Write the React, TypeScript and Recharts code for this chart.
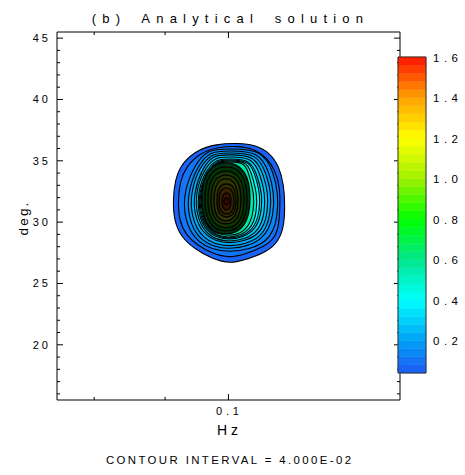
import React from "react";
import { ComposedChart, ReferenceArea, Scatter, XAxis, YAxis } from "recharts";

const FONT = "'Liberation Sans', Arial, sans-serif";

const hzTicks = [0.08, 0.09, 0.1];
const hzLabels = [0.1];
const degTicks = [
  16, 17, 18, 19, 20, 21, 22, 23, 24, 25, 26, 27, 28, 29, 30, 31, 32, 33, 34, 35,
  36, 37, 38, 39, 40, 41, 42, 43, 44, 45,
];
const degLabels = [20, 25, 30, 35, 40, 45];
const barTicks = [0.2, 0.4, 0.6, 0.8, 1.0, 1.2, 1.4, 1.6];
const contourLevels = [
  0.04, 0.08, 0.12, 0.16, 0.2, 0.24, 0.28, 0.32, 0.36, 0.4, 0.44, 0.48, 0.52,
  0.56, 0.6, 0.64, 0.68, 0.72, 0.76, 0.8, 0.84, 0.88, 0.92, 0.96, 1.0, 1.04,
  1.08, 1.12, 1.16, 1.2, 1.24, 1.28, 1.32, 1.36, 1.4, 1.44, 1.48, 1.52, 1.56,
  1.6,
];

// contour rings, [Hz, deg]
const ring004 = [
  [0.09795, 36.37], [0.10159, 36.45], [0.10468, 36.29], [0.10714, 35.64],
  [0.10876, 34.58], [0.10967, 33.03], [0.10985, 31.24], [0.10967, 29.69],
  [0.10876, 28.47], [0.10661, 27.57], [0.10329, 27.0], [0.10025, 26.59],
  [0.0973, 27.0], [0.09458, 27.81], [0.09256, 28.71], [0.09134, 30.1],
  [0.09119, 31.81], [0.09149, 33.44], [0.09256, 34.82], [0.09489, 35.88],
];
const ring008 = [
  [0.09827, 36.13], [0.10159, 36.21], [0.1045, 35.96], [0.10661, 35.23],
  [0.10804, 34.25], [0.10894, 32.87], [0.10894, 31.24], [0.10876, 29.77],
  [0.10804, 28.71], [0.10608, 27.98], [0.10295, 27.41], [0.10008, 27.08],
  [0.09746, 27.41], [0.09489, 28.14], [0.09317, 28.96], [0.0921, 30.18],
  [0.09196, 31.81], [0.09225, 33.28], [0.09317, 34.5], [0.09537, 35.64],
];
const ring012 = [
  [0.09992, 35.96], [0.10573, 35.96], [0.10786, 34.01], [0.10858, 32.3],
  [0.10858, 30.67], [0.10732, 28.22], [0.09992, 27.33], [0.09474, 28.22],
  [0.09287, 30.34], [0.09287, 32.46], [0.09442, 34.58], [0.09665, 35.96],
];
const ring016 = [
  [0.09992, 35.8], [0.1052, 35.8], [0.10714, 33.93], [0.10786, 32.3],
  [0.10786, 30.75], [0.10643, 28.47], [0.09992, 27.57], [0.09505, 28.47],
  [0.09348, 30.5], [0.09348, 32.46], [0.09489, 34.5], [0.09697, 35.8],
];
const ring020 = [
  [0.09992, 35.64], [0.10485, 35.64], [0.10661, 33.85], [0.10732, 32.38],
  [0.10732, 30.83], [0.10608, 28.63], [0.09992, 27.81], [0.09553, 28.63],
  [0.09395, 30.59], [0.09395, 32.46], [0.09521, 34.42], [0.0973, 35.64],
];
const ring024 = [
  [0.09992, 35.48], [0.1045, 35.48], [0.10608, 33.76], [0.10679, 32.38],
  [0.10679, 30.91], [0.10573, 28.87], [0.09992, 28.06], [0.09585, 28.87],
  [0.09442, 30.67], [0.09442, 32.46], [0.09569, 34.33], [0.09746, 35.48],
];
const ring028 = [
  [0.09992, 35.31], [0.10416, 35.31], [0.10555, 33.68], [0.10625, 32.3],
  [0.10625, 30.91], [0.1052, 28.96], [0.09992, 28.22], [0.09617, 28.96],
  [0.09474, 30.75], [0.09474, 32.46], [0.09585, 34.17], [0.09778, 35.31],
];
const ring032 = [
  [0.09992, 35.15], [0.10381, 35.15], [0.10503, 33.6], [0.10573, 32.3],
  [0.10573, 30.99], [0.10468, 29.12], [0.09992, 28.39], [0.09633, 29.12],
  [0.09505, 30.75], [0.09505, 32.46], [0.09617, 34.09], [0.09795, 35.15],
];
const ring036 = [
  [0.09992, 35.07], [0.10364, 35.07], [0.10468, 33.6], [0.10537, 32.3],
  [0.10537, 30.99], [0.10433, 29.2], [0.09992, 28.47], [0.09649, 29.2],
  [0.09521, 30.83], [0.09521, 32.38], [0.09633, 34.01], [0.09811, 35.07],
];
const ring044 = [
  [0.09992, 34.99], [0.10329, 34.99], [0.10416, 33.52], [0.10485, 32.3],
  [0.10485, 30.99], [0.10398, 29.28], [0.09992, 28.55], [0.09665, 29.28],
  [0.09537, 30.83], [0.09537, 32.38], [0.09633, 33.93], [0.09827, 34.99],
];
const ring052 = [
  [0.09992, 34.91], [0.10295, 34.91], [0.10364, 33.52], [0.10433, 32.3],
  [0.10433, 31.07], [0.10347, 29.36], [0.09992, 28.71], [0.09665, 29.36],
  [0.09553, 30.91], [0.09553, 32.38], [0.09649, 33.93], [0.09844, 34.91],
];
const ring060 = [
  [0.09959, 35.04], [0.10302, 34.39], [0.10395, 31.93], [0.10302, 29.47],
  [0.09959, 28.82], [0.09627, 29.47], [0.0954, 31.93], [0.09627, 34.39],
];
const ring072 = [
  [0.09959, 34.69], [0.10259, 34.11], [0.10339, 31.89], [0.10259, 29.67],
  [0.09959, 29.09], [0.09667, 29.67], [0.09591, 31.89], [0.09667, 34.11],
];
const ring084 = [
  [0.09959, 34.34], [0.10215, 33.82], [0.10285, 31.85], [0.10215, 29.88],
  [0.09959, 29.35], [0.09709, 29.88], [0.09643, 31.85], [0.09709, 33.82],
];
const ring096 = [
  [0.09959, 33.99], [0.10173, 33.54], [0.10229, 31.85], [0.10173, 30.15],
  [0.09959, 29.71], [0.09751, 30.15], [0.09695, 31.85], [0.09751, 33.54],
];
const ring108 = [
  [0.09959, 33.65], [0.10128, 33.27], [0.10174, 31.81], [0.10128, 30.35],
  [0.09959, 29.97], [0.09791, 30.35], [0.09748, 31.81], [0.09791, 33.27],
];
const ring120 = [
  [0.09967, 33.21], [0.10102, 32.91], [0.10137, 31.77], [0.10102, 30.63],
  [0.09967, 30.33], [0.09834, 30.63], [0.098, 31.77], [0.09834, 32.91],
];
const ring132 = [
  [0.09967, 32.87], [0.10073, 32.62], [0.10102, 31.73], [0.10073, 30.83],
  [0.09967, 30.59], [0.09862, 30.83], [0.09834, 31.73], [0.09862, 32.62],
];
const ring144 = [
  [0.09967, 32.43], [0.1003, 32.27], [0.10047, 31.69], [0.1003, 31.1],
  [0.09967, 30.94], [0.09905, 31.1], [0.09889, 31.69], [0.09905, 32.27],
];
const ring156 = [
  [0.09967, 32.0], [0.10002, 31.93], [0.10012, 31.69], [0.10002, 31.44],
  [0.09967, 31.38], [0.09932, 31.44], [0.09922, 31.69], [0.09932, 31.93],
];

const ringLevels = [
  0.04, 0.08, 0.12, 0.16, 0.2, 0.24, 0.28, 0.32, 0.36, 0.44, 0.52, 0.6, 0.72,
  0.84, 0.96, 1.08, 1.2, 1.32, 1.44, 1.56,
];
const ringShapes = [
  ring004, ring008, ring012, ring016, ring020, ring024, ring028, ring032,
  ring036, ring044, ring052, ring060, ring072, ring084, ring096, ring108,
  ring120, ring132, ring144, ring156,
];

const colorStops: [number, string][] = [
  [0.04, "#1e5af5"],
  [0.2, "#00a0f5"],
  [0.4, "#00ffff"],
  [0.6, "#00e68c"],
  [0.8, "#00ff00"],
  [1.0, "#a0f000"],
  [1.2, "#ffff00"],
  [1.4, "#ffa000"],
  [1.6, "#ff1400"],
];

const hexToRgb = (h: string) => [1, 3, 5].map((i) => parseInt(h.slice(i, i + 2), 16));

function colorAt(v: number, shade = 0) {
  let i = 0;
  while (i < colorStops.length - 2 && v > colorStops[i + 1][0]) i++;
  const [v0, c0] = colorStops[i];
  const [v1, c1] = colorStops[i + 1];
  const t = Math.min(1, Math.max(0, (v - v0) / (v1 - v0)));
  const a = hexToRgb(c0);
  const b = hexToRgb(c1);
  const rgb = a.map((x, k) => Math.round((x + (b[k] - x) * t) * (1 - shade)));
  return `rgb(${rgb.join(",")})`;
}

// inner bands are so tightly packed with contour lines that they read as near-black
const rings = ringLevels.map((level, i) => {
  const upper = i + 1 < ringLevels.length ? ringLevels[i + 1] : 1.6;
  const dense = level >= 0.6;
  return {
    level,
    points: ringShapes[i].map(([hz, deg]) => ({ hz, deg })),
    fill: colorAt((level + upper) / 2, dense ? 0.78 : 0),
    width: dense ? 1.3 : 1.1,
  };
});
const framePoints = ring004.map(([hz, deg]) => ({ hz, deg }));

const bands = contourLevels.slice(0, -1).map((lo, i) => ({ lo, hi: contourLevels[i + 1], pos: 0.5 }));

const NoDot = () => <g />;

const BottomTick = (props: any) => {
  const { x, y, payload } = props;
  const major = hzLabels.includes(payload.value);
  return (
    <g>
      <line x1={x} y1={y} x2={x} y2={y - (major ? 6 : 3)} stroke="#000" />
      {major && (
        <text
          x={x + 1}
          y={y + 15}
          textAnchor="middle"
          fill="#000"
          style={{ fontFamily: FONT, fontSize: 11, letterSpacing: 3.8 }}
        >
          {payload.value}
        </text>
      )}
    </g>
  );
};

const TopTick = (props: any) => {
  const { x, y, payload } = props;
  const major = hzLabels.includes(payload.value);
  return <line x1={x} y1={y} x2={x} y2={y + (major ? 6 : 3)} stroke="#000" />;
};

const LeftTick = (props: any) => {
  const { x, y, payload } = props;
  const major = degLabels.includes(payload.value);
  return (
    <g>
      <line x1={x} y1={y} x2={x + (major ? 6 : 3)} y2={y} stroke="#000" />
      {major && (
        <text
          x={x - 6}
          y={y + 4}
          textAnchor="end"
          fill="#000"
          style={{ fontFamily: FONT, fontSize: 11, letterSpacing: 3 }}
        >
          {payload.value}
        </text>
      )}
    </g>
  );
};

const RightTick = (props: any) => {
  const { x, y, payload } = props;
  const major = degLabels.includes(payload.value);
  return <line x1={x} y1={y} x2={x - (major ? 6 : 3)} y2={y} stroke="#000" />;
};

const BarTick = (props: any) => {
  const { x, y, payload } = props;
  return (
    <text
      x={x + 7}
      y={y + 4.5}
      fill="#000"
      style={{ fontFamily: FONT, fontSize: 11.5, letterSpacing: 4.5 }}
    >
      {payload.value.toFixed(1)}
    </text>
  );
};

export default function App() {
  return (
    <div style={{ position: "absolute", left: 0, top: 0, width: 465, height: 475, background: "#fff" }}>
      <ComposedChart width={465} height={475} margin={{ top: 31, right: 64, bottom: 45, left: 7 }}>
        <XAxis
          xAxisId="b"
          type="number"
          dataKey="hz"
          scale="log"
          domain={[0.0752, 0.133]}
          allowDataOverflow
          ticks={hzTicks}
          interval={0}
          height={30}
          tickSize={0}
          tickMargin={0}
          tick={BottomTick}
          axisLine={{ stroke: "#000" }}
        />
        <XAxis
          xAxisId="t"
          orientation="top"
          type="number"
          dataKey="hz"
          scale="log"
          domain={[0.0752, 0.133]}
          allowDataOverflow
          ticks={hzTicks}
          interval={0}
          height={1}
          tickSize={0}
          tickMargin={0}
          tick={TopTick}
          axisLine={{ stroke: "#000" }}
        />
        <YAxis
          yAxisId="l"
          type="number"
          dataKey="deg"
          domain={[15.5, 45.5]}
          allowDataOverflow
          ticks={degTicks}
          interval={0}
          width={50}
          tickSize={0}
          tickMargin={0}
          tick={LeftTick}
          axisLine={{ stroke: "#000" }}
        />
        <YAxis
          yAxisId="r"
          orientation="right"
          type="number"
          dataKey="deg"
          domain={[15.5, 45.5]}
          allowDataOverflow
          ticks={degTicks}
          interval={0}
          width={1}
          tickSize={0}
          tickMargin={0}
          tick={RightTick}
          axisLine={{ stroke: "#000" }}
        />
        <Scatter
          name="frame"
          data={framePoints}
          xAxisId="t"
          yAxisId="r"
          shape={NoDot}
          isAnimationActive={false}
        />
        {rings.map((r) => (
          <Scatter
            key={r.level}
            name={`c${r.level}`}
            data={r.points}
            xAxisId="b"
            yAxisId="l"
            fill={r.fill}
            line={{ fill: r.fill, stroke: "#000", strokeWidth: r.width }}
            lineType="joint"
            lineJointType="basisClosed"
            shape={NoDot}
            isAnimationActive={false}
          />
        ))}
      </ComposedChart>

      <div style={{ position: "absolute", left: 390, top: 40 }}>
        <ComposedChart width={75} height={340} margin={{ top: 17, right: 0, bottom: 7, left: 8 }} data={bands}>
          <XAxis type="number" dataKey="pos" domain={[0, 1]} allowDataOverflow hide />
          <YAxis
            type="number"
            dataKey="lo"
            orientation="right"
            domain={[0.04, 1.6]}
            allowDataOverflow
            ticks={barTicks}
            interval={0}
            width={39}
            axisLine={false}
            tickLine={false}
            tickSize={0}
            tickMargin={0}
            tick={BarTick}
          />
          <Scatter dataKey="lo" shape={NoDot} isAnimationActive={false} />
          {bands.map((b) => (
            <ReferenceArea
              key={b.lo}
              x1={0}
              x2={1}
              y1={b.lo}
              y2={b.hi}
              fill={colorAt((b.lo + b.hi) / 2)}
              fillOpacity={1}
              stroke={colorAt((b.lo + b.hi) / 2)}
              strokeWidth={0.5}
            />
          ))}
          <ReferenceArea x1={0} x2={1} y1={0.04} y2={1.6} fill="none" fillOpacity={0} stroke="#333" strokeWidth={1} />
        </ComposedChart>
      </div>

      <svg width={465} height={475} style={{ position: "absolute", left: 0, top: 0, pointerEvents: "none" }}>
        <text
          x={230.5}
          y={23}
          textAnchor="middle"
          fill="#000"
          style={{ fontFamily: FONT, fontSize: 13, letterSpacing: 6.2, wordSpacing: 6 }}
        >
          (b) Analytical solution
        </text>
        <text
          x={229.5}
          y={435}
          textAnchor="middle"
          fill="#000"
          style={{ fontFamily: FONT, fontSize: 14, letterSpacing: 4 }}
        >
          Hz
        </text>
        <text
          transform="translate(28,218) rotate(-90)"
          textAnchor="middle"
          fill="#000"
          style={{ fontFamily: FONT, fontSize: 13.5, letterSpacing: 2.2 }}
        >
          deg.
        </text>
        <text
          x={229.7}
          y={464}
          textAnchor="middle"
          fill="#000"
          style={{ fontFamily: FONT, fontSize: 11.4, letterSpacing: 2.4 }}
        >
          CONTOUR INTERVAL = 4.000E-02
        </text>
      </svg>
    </div>
  );
}
